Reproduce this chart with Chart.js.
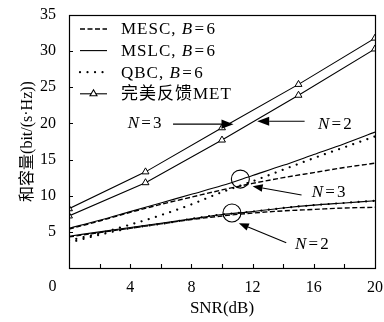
<!DOCTYPE html>
<html>
<head>
<meta charset="utf-8">
<script src="https://cdn.jsdelivr.net/npm/chart.js@4/dist/chart.umd.min.js"></script>
<style>
html,body{margin:0;padding:0;background:#fff;}
#wrap{width:384px;height:322px;position:relative;}
</style>
</head>
<body>
<div id="wrap"><canvas id="c" width="384" height="322"></canvas></div>
<script>
// ---- data ----
const snr = [0, 2, 4, 6, 8, 10, 12, 14, 16, 18, 20];
const snrMet = [0, 5, 10, 15, 20];
const mescN3 = [5.4, 6.5, 7.7, 8.8, 9.8, 10.8, 11.7, 12.5, 13.2, 13.9, 14.5];
const mslcN3 = [5.5, 6.6, 7.8, 9.0, 10.2, 11.4, 12.8, 14.2, 15.7, 17.2, 18.8];
const qbcN3  = [3.8, 4.8, 6.0, 7.3, 8.8, 10.5, 12.0, 13.6, 15.2, 16.7, 18.2];
const mescN2 = [4.3, 4.9, 5.5, 6.1, 6.7, 7.2, 7.6, 7.9, 8.1, 8.3, 8.4];
const mslcN2 = [4.4, 5.0, 5.6, 6.2, 6.8, 7.4, 7.8, 8.3, 8.7, 9.0, 9.3];
const qbcN2  = [3.5, 4.6, 5.5, 6.1, 6.8, 7.4, 7.8, 8.3, 8.7, 9.0, 9.3];
const metN3  = [8.2, 13.3, 19.4, 25.4, 31.8];
const metN2  = [7.2, 11.8, 17.7, 23.9, 30.3];
const xTicks = [0, 4, 8, 12, 16, 20];
const yTicks = [5, 10, 15, 20, 25, 30, 35];
const legendLabels = [
  [['MESC, ', false], ['B', true], ['=', false, true], ['6', false]],
  [['MSLC, ', false], ['B', true], ['=', false, true], ['6', false]],
  [['QBC, ', false], ['B', true], ['=', false, true], ['6', false]],
  [['完美反馈MET', false]]
];

const SERIF = "'Liberation Serif', 'Noto Sans CJK SC', serif";
const pts = (xs, ys) => xs.map((x, i) => ({x: x, y: ys[i]}));

const DASH = [5, 2.5];
const DOT = [0.01, 7.5];

function lineDs(data, style) {
  const ds = {
    data: data, borderColor: '#000', borderWidth: 1.1, pointRadius: 0,
    cubicInterpolationMode: 'monotone', fill: false
  };
  if (style === 'dash') { ds.borderDash = DASH; ds.borderWidth = 1.4; }
  if (style === 'dot') { ds.borderDash = DOT; ds.borderWidth = 2.2; ds.borderCapStyle = 'round'; }
  return ds;
}

const datasets = [
  lineDs(pts(snr, mescN3), 'dash'),
  lineDs(pts(snr, mslcN3), 'solid'),
  lineDs(pts(snr, qbcN3), 'dot'),
  lineDs(pts(snr, mescN2), 'dash'),
  lineDs(pts(snr, mslcN2), 'solid'),
  lineDs(pts(snr, qbcN2), 'dot'),
  {data: pts(snrMet, metN3), borderColor: '#000', borderWidth: 1.1, pointStyle: 'triangle',
   pointRadius: 4, pointBorderWidth: 1, pointBackgroundColor: '#fff', pointBorderColor: '#000', tension: 0},
  {data: pts(snrMet, metN2), borderColor: '#000', borderWidth: 1.1, pointStyle: 'triangle',
   pointRadius: 4, pointBorderWidth: 1, pointBackgroundColor: '#fff', pointBorderColor: '#000', tension: 0}
];

// annotation specs in data units
const annoTexts = [
  {x: 4.97, y: 20.05, n: '3'},
  {x: 17.4, y: 19.8, n: '2'},
  {x: 17.0, y: 10.4, n: '3'},
  {x: 15.9, y: 3.2, n: '2'}
];
const annoArrows = [
  {x0: 6.8, y0: 19.9, x1: 10.75, y1: 19.9, head: 12},
  {x0: 15.4, y0: 20.3, x1: 12.3, y1: 20.3, head: 12},
  {x0: 15.2, y0: 10.1, x1: 12.0, y1: 11.3, head: 10},
  {x0: 14.2, y0: 3.5, x1: 11.1, y1: 6.2, head: 10}
];
const annoCircles = [
  {x: 11.2, y: 12.3},
  {x: 10.65, y: 7.6}
];

function drawRich(ctx, x, y, parts, size, align, spacing) {
  ctx.save();
  ctx.textBaseline = 'middle';
  ctx.textAlign = 'left';
  ctx.fillStyle = '#000';
  ctx.letterSpacing = (spacing || 0) + 'px';
  const mathSp = size * 0.08;
  let w = 0;
  parts.forEach(p => {
    ctx.font = (p[1] ? 'italic ' : '') + size + 'px ' + SERIF;
    w += ctx.measureText(p[0]).width + (p[2] ? 2 * mathSp : 0);
  });
  let cx = align === 'center' ? x - w / 2 : x;
  parts.forEach(p => {
    ctx.font = (p[1] ? 'italic ' : '') + size + 'px ' + SERIF;
    if (p[2]) cx += mathSp;
    ctx.fillText(p[0], cx, y);
    cx += ctx.measureText(p[0]).width;
    if (p[2]) cx += mathSp;
  });
  ctx.restore();
}

function arrow(ctx, x0, y0, x1, y1, head) {
  const ang = Math.atan2(y1 - y0, x1 - x0);
  const bx = x1 - head * Math.cos(ang), by = y1 - head * Math.sin(ang);
  ctx.beginPath();
  ctx.moveTo(x0, y0); ctx.lineTo(bx, by); ctx.stroke();
  const hw = head * 0.38;
  ctx.beginPath();
  ctx.moveTo(x1, y1);
  ctx.lineTo(bx + hw * Math.sin(ang), by - hw * Math.cos(ang));
  ctx.lineTo(bx - hw * Math.sin(ang), by + hw * Math.cos(ang));
  ctx.closePath(); ctx.fill();
}

const framePlugin = {
  id: 'frame',
  afterDraw(chart) {
    const ctx = chart.ctx, a = chart.chartArea;
    const xs = chart.scales.x, ys = chart.scales.y;
    ctx.save();
    ctx.strokeStyle = '#000'; ctx.fillStyle = '#000'; ctx.lineWidth = 1.2;
    ctx.strokeRect(Math.round(a.left) + 0.5, Math.round(a.top) + 0.5,
                   Math.round(a.right - a.left), Math.round(a.bottom - a.top));
    ctx.lineWidth = 1.1;
    // inner ticks
    ctx.beginPath();
    for (let v = 2; v < 20; v += 2) {
      const px = Math.round(xs.getPixelForValue(v)) + 0.5;
      ctx.moveTo(px, a.bottom); ctx.lineTo(px, a.bottom - 4);
    }
    for (let v = 5; v < 35; v += 5) {
      const py = Math.round(ys.getPixelForValue(v)) + 0.5;
      ctx.moveTo(a.left, py); ctx.lineTo(a.left + 4, py);
    }
    ctx.stroke();
    // shared origin label
    ctx.font = '16px ' + SERIF;
    ctx.textAlign = 'center'; ctx.textBaseline = 'middle';
    ctx.fillText('0', a.left - 16.5, a.bottom + 18.5);
    // legend
    const lx0 = a.left + 11, lx1 = a.left + 38, tx = a.left + 52;
    legendLabels.forEach((parts, i) => {
      const yy = a.top + 14 + i * 21.6;
      ctx.save();
      ctx.beginPath();
      if (i === 0) { ctx.setLineDash(DASH); ctx.lineWidth = 1.4; }
      if (i === 2) { ctx.setLineDash(DOT); ctx.lineWidth = 2.2; ctx.lineCap = 'round'; }
      ctx.moveTo(lx0, yy); ctx.lineTo(lx1, yy); ctx.stroke();
      ctx.restore();
      if (i === 3) {
        const cx = (lx0 + lx1) / 2, r = 4;
        ctx.save(); ctx.fillStyle = '#fff';
        ctx.beginPath();
        ctx.moveTo(cx, yy - r); ctx.lineTo(cx + r * 0.87, yy + r * 0.5); ctx.lineTo(cx - r * 0.87, yy + r * 0.5);
        ctx.closePath(); ctx.fill(); ctx.stroke(); ctx.restore();
      }
      drawRich(ctx, tx, yy + 1, parts, 17, 'left', 1);
    });
    // annotations
    annoTexts.forEach(t => {
      drawRich(ctx, xs.getPixelForValue(t.x), ys.getPixelForValue(t.y),
               [['N', true], ['=', false, true], [t.n, false]], 17, 'center', 0.8);
    });
    annoArrows.forEach(r => {
      arrow(ctx, xs.getPixelForValue(r.x0), ys.getPixelForValue(r.y0),
            xs.getPixelForValue(r.x1), ys.getPixelForValue(r.y1), r.head);
    });
    annoCircles.forEach(c => {
      ctx.beginPath();
      ctx.arc(xs.getPixelForValue(c.x), ys.getPixelForValue(c.y), 9, 0, Math.PI * 2);
      ctx.stroke();
    });
    ctx.restore();
  }
};

new Chart(document.getElementById('c'), {
  type: 'line',
  data: {datasets: datasets},
  options: {
    responsive: false,
    animation: false,
    events: [],
    layout: {padding: {top: 15, right: 9, left: 0, bottom: 0}},
    plugins: {legend: {display: false}, tooltip: {enabled: false}},
    scales: {
      x: {
        type: 'linear', min: 0, max: 20,
        afterBuildTicks: s => { s.ticks = xTicks.map(v => ({value: v})); },
        grid: {display: false, drawTicks: false},
        border: {display: false},
        ticks: {
          padding: 10, color: '#000', maxRotation: 0, autoSkip: false,
          font: {family: SERIF, size: 16},
          callback: v => (v === 0 ? '' : String(v))
        },
        title: {display: true, text: 'SNR(dB)', color: '#000',
                font: {family: SERIF, size: 17}, padding: {top: 0, bottom: 3}},
        afterFit: s => { s.height = 54; s.paddingLeft = 0; s.paddingRight = 0; }
      },
      y: {
        type: 'linear', min: 0, max: 35,
        afterBuildTicks: s => { s.ticks = yTicks.map(v => ({value: v})); },
        grid: {display: false, drawTicks: false},
        border: {display: false},
        ticks: {padding: 13, color: '#000', font: {family: SERIF, size: 16}},
        title: {display: true, text: '和容量(bit/(s·Hz))', color: '#000',
                font: {family: SERIF, size: 16}, padding: {top: 18, bottom: 0}},
        afterFit: s => { s.width = 69; s.paddingTop = 0; s.paddingBottom = 0; }
      }
    }
  },
  plugins: [framePlugin]
});
</script>
</body>
</html>
